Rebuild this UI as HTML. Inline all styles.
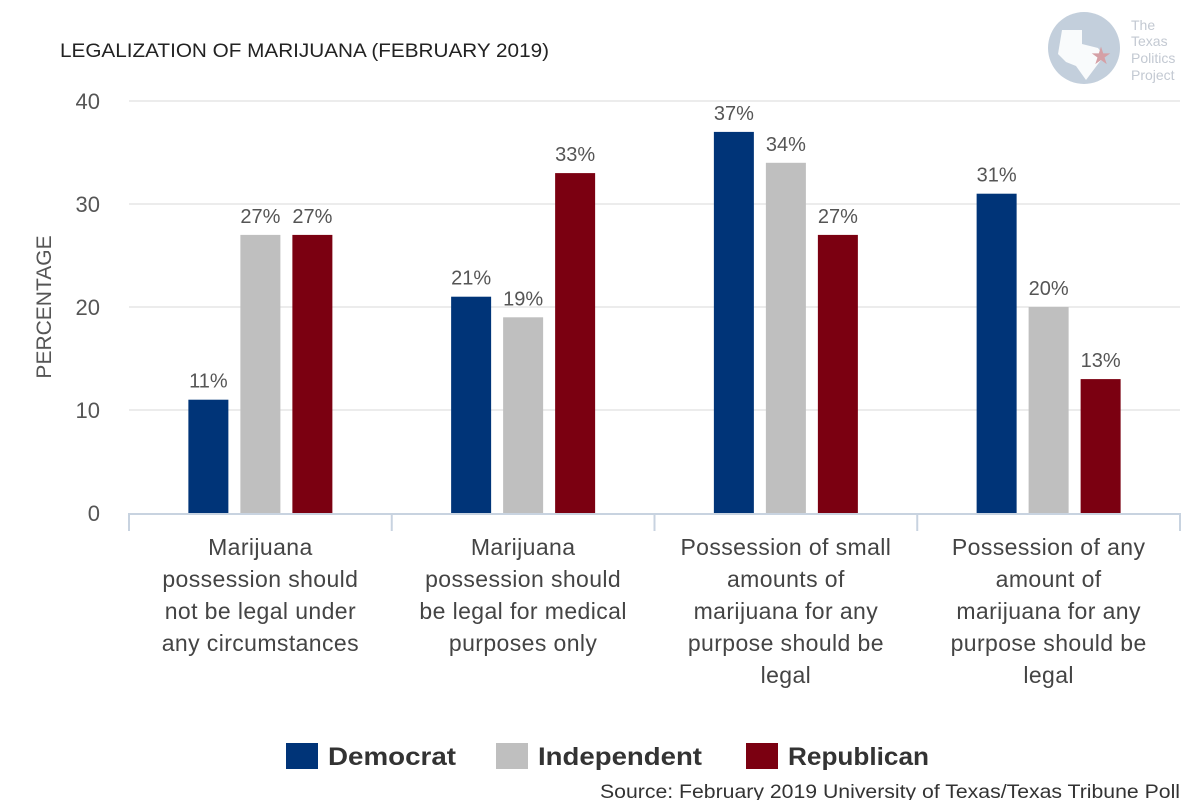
<!DOCTYPE html>
<html><head><meta charset="utf-8"><style>
body{margin:0;background:#fff;font-family:"Liberation Sans",sans-serif;}
</style></head><body>
<svg width="1200" height="800" viewBox="0 0 1200 800" xmlns="http://www.w3.org/2000/svg">
<g>
<circle cx="1084" cy="48" r="36" fill="#c3cfdc"/>
<path d="M1062 30 L1082 30 L1082 44 L1098 48 L1104 56 L1092 72 L1086 80 L1076 66 L1066 62 L1058 54 Z" fill="#fff" opacity="0.9"/>
<text x="1101" y="64" font-size="24" fill="#d5a0a6" text-anchor="middle">★</text>
<text font-size="14" fill="#c3c9d2"><tspan x="1131" y="30">The</tspan><tspan x="1131" y="46">Texas</tspan><tspan x="1131" y="63">Politics</tspan><tspan x="1131" y="80">Project</tspan></text>
</g>
<text x="60" y="57" font-size="19" fill="#222" textLength="489" lengthAdjust="spacingAndGlyphs">LEGALIZATION OF MARIJUANA (FEBRUARY 2019)</text>
<text transform="translate(51,307) rotate(-90)" text-anchor="middle" font-size="21" fill="#555">PERCENTAGE</text>
<g id="plot"></g>
<g font-size="25" font-weight="bold" fill="#333">
<rect x="286" y="743" width="32" height="26" fill="#003478"/>
<text x="328" y="765" textLength="128" lengthAdjust="spacingAndGlyphs">Democrat</text>
<rect x="496" y="743" width="32" height="26" fill="#bfbfbf"/>
<text x="538" y="765" textLength="164" lengthAdjust="spacingAndGlyphs">Independent</text>
<rect x="746" y="743" width="32" height="26" fill="#7b0011"/>
<text x="788" y="765" textLength="141" lengthAdjust="spacingAndGlyphs">Republican</text>
</g>
<text x="600" y="798" font-size="19" fill="#333" textLength="580" lengthAdjust="spacingAndGlyphs">Source: February 2019 University of Texas/Texas Tribune Poll</text>
</svg>
<script>
const categories=[["Marijuana","possession should","not be legal under","any circumstances"],["Marijuana","possession should","be legal for medical","purposes only"],["Possession of small","amounts of","marijuana for any","purpose should be","legal"],["Possession of any","amount of","marijuana for any","purpose should be","legal"]];
const seriesNames=["Democrat","Independent","Republican"];
const democrat=[11,21,37,31];
const independent=[27,19,34,20];
const republican=[27,33,27,13];
const yTicks=[0,10,20,30,40];
const colors=["#003478","#bfbfbf","#7b0011"];
const NS="http://www.w3.org/2000/svg";
const g=document.getElementById('plot');
const x0=129,x1=1180,yB=513,yT=101;
const y=v=>yB-(v/40)*(yB-yT);
const bw=(x1-x0)/categories.length;
function mk(t,a,p){const e=document.createElementNS(NS,t);for(const k in a)e.setAttribute(k,a[k]);(p||g).appendChild(e);return e;}
yTicks.forEach(t=>{
  if(t>0){const l=mk('line',{x1:x0,x2:x1,y1:y(t),y2:y(t),stroke:'#e6e6e6','stroke-width':1.5});
  
  }
  const tx=mk('text',{x:100,y:y(t)+8,'text-anchor':'end','font-size':22,fill:'#555'});tx.textContent=t;
  
  
});
const ax=mk('line',{x1:x0,x2:x1,y1:yB+1,y2:yB+1,stroke:'#c8d3e0','stroke-width':2});


for(let i=0;i<=categories.length;i++){const t=mk('line',{x1:x0+i*bw,x2:x0+i*bw,y1:yB,y2:yB+18,stroke:'#c8d3e0','stroke-width':2});

}
const series=[democrat,independent,republican];
categories.forEach((c,i)=>{
  const cx=x0+bw*(i+0.5);
  series.forEach((s,j)=>{
    const bx=cx+(j-1)*52-20;
    const r=mk('rect',{x:bx,y:y(s[i]),width:40,height:yB-y(s[i]),fill:colors[j]});
    
    
    const lb=mk('text',{x:bx+20,y:y(s[i])-12,'text-anchor':'middle','font-size':20,fill:'#555'});lb.textContent=s[i]+'%';
    
    
  });
  const t=mk('text',{'text-anchor':'middle','font-size':23,fill:'#444','letter-spacing':'0.4'});
  
  
  c.forEach((ln,k)=>{const ts=mk('tspan',{x:cx,y:555+k*32},t);ts.textContent=ln;});
});
</script>
</body></html>
